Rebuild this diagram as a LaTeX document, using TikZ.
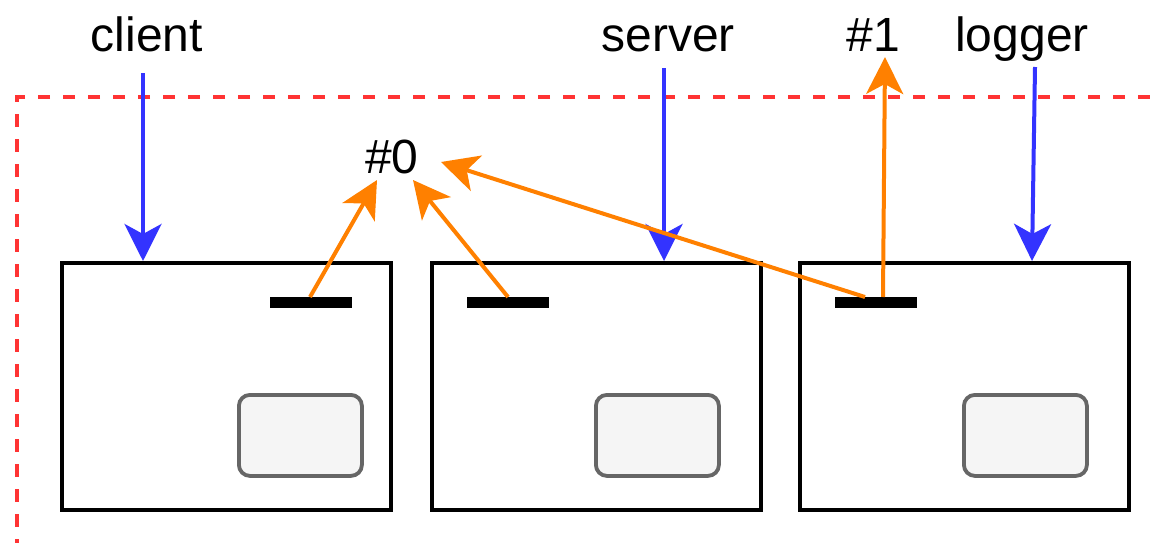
\documentclass[tikz,border=0pt]{standalone}
\usepackage{fontspec}
\setmainfont{Liberation Sans}
\usetikzlibrary{arrows.meta}
\definecolor{dashred}{HTML}{FF3333}
\definecolor{arrblue}{HTML}{3333FF}
\definecolor{arrorange}{HTML}{FF8000}
\definecolor{innerfill}{HTML}{F5F5F5}
\definecolor{innerdraw}{HTML}{666666}
\tikzset{
  outerbox/.style={draw=black, line width=4pt, minimum width=329pt, minimum height=247pt, inner sep=0pt, anchor=north west, fill=white},
  innerbox/.style={draw=innerdraw, fill=innerfill, line width=3.8pt, rounded corners=11pt, minimum width=123pt, minimum height=81pt, inner sep=0pt, anchor=north west},
  bar/.style={fill=black, minimum width=82pt, minimum height=11pt, inner sep=0pt, anchor=north west},
  lbl/.style={font=\fontsize{48}{58}\selectfont, inner sep=0pt, anchor=base},
  tip/.style={-{Stealth[length=37pt, width=37pt, inset=10pt]}},
  bluearrow/.style={tip, draw=arrblue, fill=arrblue, line width=4pt},
  orangearrow/.style={tip, draw=arrorange, fill=arrorange, line width=4pt},
  boundary/.style={draw=dashred, line width=4pt, dash pattern=on 12.5pt off 12.5pt},
}
\begin{document}
\begin{tikzpicture}[x=1pt, y=-1pt]
\useasboundingbox (0,0) rectangle (1150,543);
% boundary
\coordinate (bTR) at (1150,97);
\coordinate (bTL) at (17,97);
\coordinate (bBL) at (17,543);
\draw[boundary] (bTR) -- (bTL) -- (bBL);
% boxes
\node[outerbox] (box1) at (60,261) {};
\node[outerbox] (box2) at (430,261) {};
\node[outerbox] (box3) at (798,261) {};
\node[innerbox] (in1) at (237,393) {};
\node[innerbox] (in2) at (594,393) {};
\node[innerbox] (in3) at (962,393) {};
\node[bar] (bar1) at (270,297) {};
\node[bar] (bar2) at (467,297) {};
\node[bar] (bar3) at (835,297) {};
% labels
\node[lbl] (client) at (147,52) {client};
\node[lbl] (server) at (668,52) {server};
\node[lbl] (one) at (873,52) {\#1};
\node[lbl] (logger) at (1022,52) {logger};
\node[lbl] (zero) at (392,173) {\#0};
% blue arrows
\coordinate (c1) at (143,73);
\coordinate (c2) at (664,68);
\coordinate (c3) at (1035,67);
\coordinate (e1) at (143,261);
\coordinate (e2) at (664,261);
\coordinate (e3) at (1032,261);
\draw[bluearrow] (c1) -- (e1);
\draw[bluearrow] (c2) -- (e2);
\draw[bluearrow] (c3) -- (e3);
% orange arrows
\coordinate (s1) at (310,297);
\coordinate (s2) at (508,297);
\coordinate (s3) at (865,297);
\coordinate (s4) at (883,297);
\coordinate (t1) at (377,180);
\coordinate (t2) at (413,180);
\coordinate (t3) at (441,162);
\coordinate (t4) at (885,57);
\draw[orangearrow] (s1) -- (t1);
\draw[orangearrow] (s2) -- (t2);
\draw[orangearrow] (s3) -- (t3);
\draw[orangearrow] (s4) -- (t4);
\end{tikzpicture}
\end{document}
